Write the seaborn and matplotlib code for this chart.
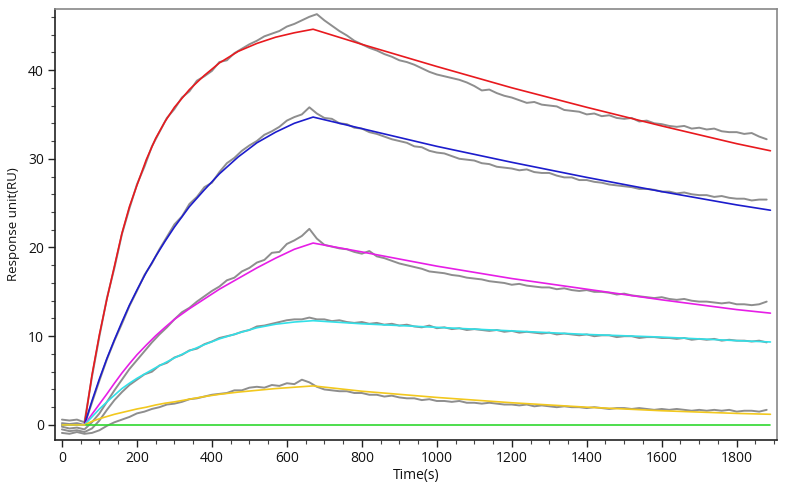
import matplotlib
matplotlib.use("Agg")
import matplotlib.pyplot as plt
from matplotlib.ticker import MultipleLocator
import seaborn as sns
import pandas as pd

# ---------------- data ----------------
# fitted (model) curves, sampled times (s)
fit_t = [0, 60, 80, 100, 120, 140, 160, 180, 200, 225, 250, 275, 300, 340, 380,
         420, 470, 520, 570, 620, 670, 800, 1000, 1200, 1400, 1600, 1800, 1890]
fit_red = [0, 0, 5.6, 10.2, 14.2, 17.9, 21.6, 24.6, 27.0, 29.9, 32.3, 34.2, 35.8, 37.8, 39.4,
           40.8, 42.1, 43.0, 43.7, 44.2, 44.6, 42.9, 40.4, 38.0, 35.8, 33.7, 31.7, 30.9]
fit_blue = [0, 0, 2.7, 5.2, 7.5, 9.6, 11.6, 13.5, 15.2, 17.2, 19.0, 20.7, 22.3, 24.6, 26.5,
            28.3, 30.2, 31.8, 33.0, 34.0, 34.7, 33.4, 31.4, 29.6, 27.9, 26.3, 24.8, 24.2]
fit_magenta = [0, 0, 1.2, 2.35, 3.5, 4.7, 5.85, 6.9, 7.9, 9.0, 10.05, 11.0, 11.9, 13.1, 14.2,
               15.3, 16.5, 17.7, 18.8, 19.8, 20.5, 19.5, 17.9, 16.5, 15.3, 14.1, 13.0, 12.6]
fit_cyan = [0, 0, 0.9, 1.8, 2.6, 3.35, 4.1, 4.7, 5.25, 5.85, 6.45, 7.0, 7.55, 8.35, 9.05,
            9.7, 10.35, 10.95, 11.35, 11.6, 11.75, 11.4, 11.0, 10.6, 10.2, 9.9, 9.5, 9.35]
fit_yellow = [0, 0, 0.4, 0.7, 0.95, 1.2, 1.4, 1.6, 1.8, 2.0, 2.25, 2.45, 2.6, 2.9, 3.2,
              3.45, 3.7, 3.9, 4.1, 4.25, 4.4, 3.8, 3.1, 2.5, 2.0, 1.6, 1.3, 1.2]
green_t = [65, 1890]
fit_green = [0, 0]

# measured sensorgrams, one value every 20 s starting at t = 0
data_step = 20
obs_red = [0.6, 0.5, 0.6, 0.3, 5.4, 10.0, 14.3, 17.7, 21.5, 24.4, 27.1, 29.1, 31.4, 33.0, 34.6,
           35.6, 36.9, 37.6, 38.8, 39.3, 39.9, 40.9, 41.1, 41.9, 42.4, 42.9, 43.3, 43.8, 44.1,
           44.4, 44.9, 45.2, 45.6, 46.0, 46.3, 45.6, 45.0, 44.4, 43.9, 43.3, 42.9, 42.5, 42.2,
           41.8, 41.5, 41.1, 40.9, 40.6, 40.2, 39.8, 39.5, 39.3, 39.1, 38.9, 38.6, 38.2, 37.7,
           37.8, 37.4, 37.1, 36.9, 36.6, 36.3, 36.4, 36.1, 36.0, 35.9, 35.5, 35.4, 35.3, 35.0,
           35.1, 34.8, 34.9, 34.6, 34.5, 34.6, 34.2, 34.3, 34.0, 33.9, 33.7, 33.6, 33.7, 33.4,
           33.5, 33.3, 33.4, 33.1, 33.0, 33.0, 32.8, 32.9, 32.5, 32.2]
obs_blue = [0.2, 0.1, 0.2, 0.0, 2.5, 5.0, 7.4, 9.5, 11.4, 13.4, 15.1, 16.9, 18.2, 19.8, 21.2,
            22.6, 23.5, 24.9, 25.7, 26.8, 27.3, 28.5, 29.5, 30.1, 30.9, 31.5, 32.0, 32.7, 33.1,
            33.6, 34.3, 34.7, 35.0, 35.8, 35.1, 34.6, 34.5, 34.0, 33.9, 33.5, 33.4, 33.0, 32.8,
            32.5, 32.2, 32.0, 31.8, 31.4, 31.3, 30.9, 30.7, 30.6, 30.3, 30.0, 29.9, 29.8, 29.5,
            29.4, 29.1, 29.0, 28.9, 28.7, 28.8, 28.5, 28.4, 28.4, 28.1, 27.9, 27.9, 27.6, 27.6,
            27.4, 27.3, 27.1, 27.0, 26.9, 26.8, 26.6, 26.6, 26.5, 26.3, 26.3, 26.1, 26.2, 26.0,
            25.9, 25.9, 25.7, 25.8, 25.6, 25.5, 25.5, 25.3, 25.4, 25.4]
obs_magenta = [-0.2, -0.4, -0.3, -0.5, 0.3, 1.3, 2.6, 3.9, 5.1, 6.3, 7.3, 8.3, 9.3, 10.2, 11.0,
               11.9, 12.7, 13.2, 13.9, 14.5, 15.1, 15.6, 16.3, 16.6, 17.3, 17.7, 18.3, 18.6, 19.4,
               19.5, 20.4, 20.8, 21.3, 22.1, 21.0, 20.3, 20.1, 19.9, 19.8, 19.5, 19.3, 19.6, 19.0,
               18.8, 18.5, 18.2, 18.0, 17.8, 17.6, 17.3, 17.2, 17.1, 16.9, 16.8, 16.6, 16.5, 16.4,
               16.2, 16.1, 16.0, 15.8, 15.9, 15.7, 15.6, 15.5, 15.5, 15.3, 15.4, 15.2, 15.1, 15.2,
               15.0, 15.0, 14.9, 14.7, 14.8, 14.6, 14.5, 14.4, 14.3, 14.4, 14.2, 14.1, 14.2, 14.0,
               13.9, 13.9, 13.8, 13.7, 13.8, 13.6, 13.6, 13.5, 13.6, 13.9]
obs_cyan = [-0.5, -0.7, -0.6, -0.8, -0.4, 0.5, 1.7, 2.8, 3.7, 4.5, 5.1, 5.7, 6.0, 6.7, 7.0,
            7.6, 7.9, 8.4, 8.6, 9.1, 9.4, 9.8, 10.0, 10.2, 10.5, 10.7, 11.1, 11.2, 11.4,
            11.6, 11.8, 11.9, 11.9, 12.1, 11.9, 11.9, 11.7, 11.8, 11.6, 11.5, 11.6, 11.4, 11.5,
            11.3, 11.4, 11.2, 11.3, 11.1, 11.0, 11.2, 10.9, 11.0, 10.8, 10.9, 10.7, 10.8, 10.7,
            10.6, 10.7, 10.5, 10.6, 10.4, 10.5, 10.4, 10.3, 10.4, 10.2, 10.3, 10.2, 10.1, 10.2,
            10.0, 10.1, 10.1, 9.9, 10.0, 10.0, 9.8, 9.9, 9.9, 9.8, 9.8, 9.7, 9.8, 9.6,
            9.7, 9.6, 9.7, 9.5, 9.6, 9.5, 9.5, 9.4, 9.5, 9.3]
obs_yellow = [-0.9, -1.0, -0.8, -1.0, -0.9, -0.6, -0.1, 0.3, 0.6, 0.9, 1.3, 1.5, 1.8, 2.0, 2.3,
              2.4, 2.6, 2.9, 3.0, 3.2, 3.4, 3.5, 3.6, 3.9, 3.9, 4.2, 4.3, 4.2, 4.5,
              4.4, 4.7, 4.6, 5.1, 4.8, 4.3, 4.0, 3.9, 3.8, 3.8, 3.6, 3.6, 3.4, 3.4,
              3.2, 3.3, 3.1, 3.0, 3.0, 2.8, 2.9, 2.7, 2.7, 2.6, 2.7, 2.5, 2.5, 2.4,
              2.5, 2.4, 2.3, 2.3, 2.2, 2.3, 2.1, 2.2, 2.1, 2.0, 2.1, 2.0, 2.0, 1.9,
              2.0, 1.9, 1.8, 1.9, 1.9, 1.8, 1.9, 1.8, 1.7, 1.8, 1.7, 1.8, 1.7, 1.6,
              1.7, 1.6, 1.7, 1.6, 1.7, 1.5, 1.6, 1.6, 1.5, 1.7]

x_ticks = [0, 200, 400, 600, 800, 1000, 1200, 1400, 1600, 1800]
y_ticks = [0, 10, 20, 30, 40]
x_label = "Time(s)"
y_label = "Response unit(RU)"

# ---------------- tables ----------------
obs_rows = []
for name, vals in [("red", obs_red), ("blue", obs_blue), ("magenta", obs_magenta),
                   ("cyan", obs_cyan), ("yellow", obs_yellow)]:
    for i, v in enumerate(vals):
        obs_rows.append({"curve": name, "t": i * data_step, "v": v})
obs_df = pd.DataFrame(obs_rows)

fit_rows = []
for name, vals in [("red", fit_red), ("blue", fit_blue), ("magenta", fit_magenta),
                   ("cyan", fit_cyan), ("yellow", fit_yellow)]:
    for t, v in zip(fit_t, vals):
        fit_rows.append({"curve": name, "t": t, "v": v})
for t, v in zip(green_t, fit_green):
    fit_rows.append({"curve": "green", "t": t, "v": v})
fit_df = pd.DataFrame(fit_rows)

palette = {"red": "#e8191e", "blue": "#1c1ccc", "magenta": "#e61ee6",
           "cyan": "#32e0e8", "yellow": "#f2c81e", "green": "#2fd82f"}

# ---------------- plot ----------------
sns.set_style("white")
plt.rcParams["font.family"] = ["Open Sans", "DejaVu Sans"]

fig = plt.figure(figsize=(8.0, 4.9), dpi=100)
ax = fig.add_axes([0.069, 0.102, 0.902, 0.880])

sns.lineplot(data=obs_df, x="t", y="v", units="curve", estimator=None,
             color="#8e8e8e", linewidth=1.4, ax=ax, legend=False)
sns.lineplot(data=fit_df, x="t", y="v", hue="curve", palette=palette, estimator=None,
             linewidth=1.2, ax=ax, legend=False, sort=False)

ax.set_xlim(-18, 1907)
ax.set_ylim(-1.7, 46.9)
ax.set_xticks(x_ticks)
ax.set_yticks(y_ticks)
ax.xaxis.set_minor_locator(MultipleLocator(50))
ax.yaxis.set_minor_locator(MultipleLocator(2))
ax.tick_params(axis="both", which="major", direction="out", length=5, width=1,
               color="#222222", labelsize=10, labelcolor="#111111", pad=3, bottom=True, left=True)
ax.tick_params(axis="both", which="minor", direction="out", length=3, width=0.8,
               color="#444444", bottom=True, left=True)

ax.set_xlabel(x_label, fontsize=10, color="#111111", labelpad=1)
ax.set_ylabel(y_label, fontsize=9.5, color="#111111", labelpad=6)

for side in ["left", "bottom"]:
    ax.spines[side].set_color("#222222")
    ax.spines[side].set_linewidth(1.2)
for side in ["top", "right"]:
    ax.spines[side].set_color("#888888")
    ax.spines[side].set_linewidth(1.2)

fig.savefig("out.png", dpi=100, facecolor="white")
